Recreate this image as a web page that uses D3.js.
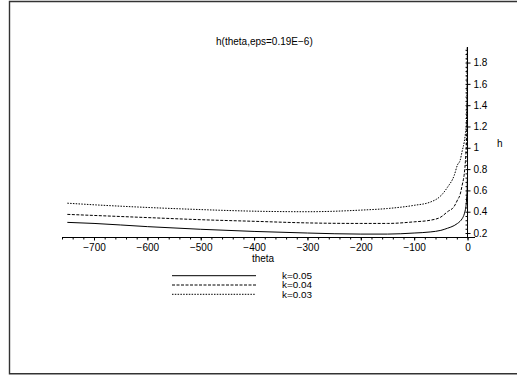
<!DOCTYPE html>
<html>
<head>
<meta charset="utf-8">
<script src="https://cdn.jsdelivr.net/npm/d3@7"></script>
<style>
  body { margin: 0; background: #fff; }
  text { font-family: "Liberation Sans", Arial, sans-serif; font-size: 10px; fill: #000; }
</style>
</head>
<body>
<script>
// values
const thetaValues = [-750, -700, -600, -500, -400, -300, -200, -150, -100, -70, -50, -37.5, -25, -18.8, -14, -10, -6, -4, -3, -2, -1.5, -1, -0.5, -0.3];
const h005 = [0.30, 0.29, 0.26, 0.235, 0.215, 0.20, 0.19, 0.19, 0.20, 0.21, 0.225, 0.245, 0.27, 0.29, 0.31, 0.335, 0.38, 0.42, 0.45, 0.50, 0.54, 0.58, 0.66, 0.72];
const h004 = [0.375, 0.365, 0.345, 0.325, 0.31, 0.295, 0.29, 0.29, 0.305, 0.32, 0.35, 0.40, 0.45, 0.51, 0.56, 0.65, 0.76, 0.87, 0.95, 1.05, 1.15, 1.3, 1.6, 1.95];
const h003 = [0.48, 0.465, 0.44, 0.42, 0.405, 0.40, 0.415, 0.43, 0.46, 0.49, 0.55, 0.63, 0.74, 0.84, 0.88, 0.97, 1.06, 1.13, 1.17, 1.25, 1.35, 1.5, 1.95, 2.2];
const seriesNames = ["k=0.05", "k=0.04", "k=0.03"];
const xTicks = [-700, -600, -500, -400, -300, -200, -100, 0];
const yTicks = [0.2, 0.4, 0.6, 0.8, 1, 1.2, 1.4, 1.6, 1.8];

const width = 517, height = 376;
const dashes = [null, "3,1.5", "1.5,1.3"];
const allSeries = [h005, h004, h003];

let svg = d3.select("body").append("svg")
  .attr("width", width)
  .attr("height", height);

// frame
svg.append("path")
  .attr("d", "M" + (width + 5) + ",1.5 H9.5 V373.8 H" + (width + 5))
  .attr("fill", "none")
  .attr("stroke", "#333")
  .attr("stroke-width", 1.4);

let x = d3.scaleLinear().domain([-760, 14]).range([62, 475]);
let y = d3.scaleLinear().domain([0.158, 1.946]).range([237.5, 47]);

svg.append("defs").append("clipPath").attr("id", "clip")
  .append("rect").attr("x", 50).attr("y", y(1.946)).attr("width", 440).attr("height", 200);

let fmt = d => (d < 0 ? "\u2212" + Math.abs(d) : "" + d);

// x axis
let xAxisG = svg.append("g").attr("transform", "translate(0," + y(0.158) + ")");
xAxisG.call(d3.axisBottom(x).tickValues(d3.range(-760, 1, 20)).tickSize(2).tickFormat(""));
xAxisG.call(g => g.select(".domain").remove());
let xMajor = svg.append("g").attr("transform", "translate(0," + y(0.158) + ")")
  .call(d3.axisBottom(x).tickValues(xTicks).tickSize(3).tickPadding(3).tickFormat(fmt));
xMajor.select(".domain").attr("d", "M" + x(-760) + ",0H" + x(14));
xMajor.selectAll("text").style("font-size", "10px").attr("font-family", null);

// y axis
let yAxisG = svg.append("g").attr("transform", "translate(" + x(0) + ",0)");
yAxisG.call(d3.axisLeft(y).tickValues(d3.range(0.2, 1.95, 0.04)).tickSize(2).tickFormat(""));
yAxisG.call(g => g.select(".domain").remove());
let yMajor = svg.append("g").attr("transform", "translate(" + x(0) + ",0)")
  .call(d3.axisRight(y).tickValues(yTicks).tickSize(3).tickPadding(3).tickFormat(d => d3.format("")(+d.toFixed(1))));
yMajor.select(".domain").attr("d", "M0," + y(0.158) + "V" + y(1.946));
yMajor.selectAll("text").style("font-size", "10px").attr("font-family", null);
svg.selectAll(".tick line").attr("stroke", "#000");
svg.selectAll(".domain").attr("stroke", "#000");

// curves
let line = d3.line()
  .x((d, i) => x(thetaValues[i]))
  .y(d => y(d))
  .curve(d3.curveMonotoneX);

let plot = svg.append("g").attr("clip-path", "url(#clip)");
plot.selectAll("path.curve")
  .data(allSeries)
  .join("path")
  .attr("class", "curve")
  .attr("d", d => line(d))
  .attr("fill", "none")
  .attr("stroke", "#000")
  .attr("stroke-width", 1)
  .attr("stroke-dasharray", (d, i) => dashes[i]);

// labels
svg.append("text").attr("x", 216).attr("y", 45).text("h(theta,eps=0.19E\u22126)");
svg.append("text").attr("x", 263).attr("y", 262).attr("text-anchor", "middle").text("theta");
svg.append("text").attr("x", 497).attr("y", 147).text("h");

// legend
let leg = svg.append("g");
seriesNames.forEach((name, i) => {
  let ly = 275.7 + i * 9.3;
  leg.append("line")
    .attr("x1", 172).attr("x2", 256)
    .attr("y1", ly).attr("y2", ly)
    .attr("stroke", "#000")
    .attr("stroke-width", 1)
    .attr("stroke-dasharray", dashes[i]);
  leg.append("text").attr("x", 282).attr("y", ly + 3.3)
    .style("font-size", "8.5px")
    .attr("textLength", 30)
    .attr("lengthAdjust", "spacingAndGlyphs")
    .text(name);
});
</script>
</body>
</html>
